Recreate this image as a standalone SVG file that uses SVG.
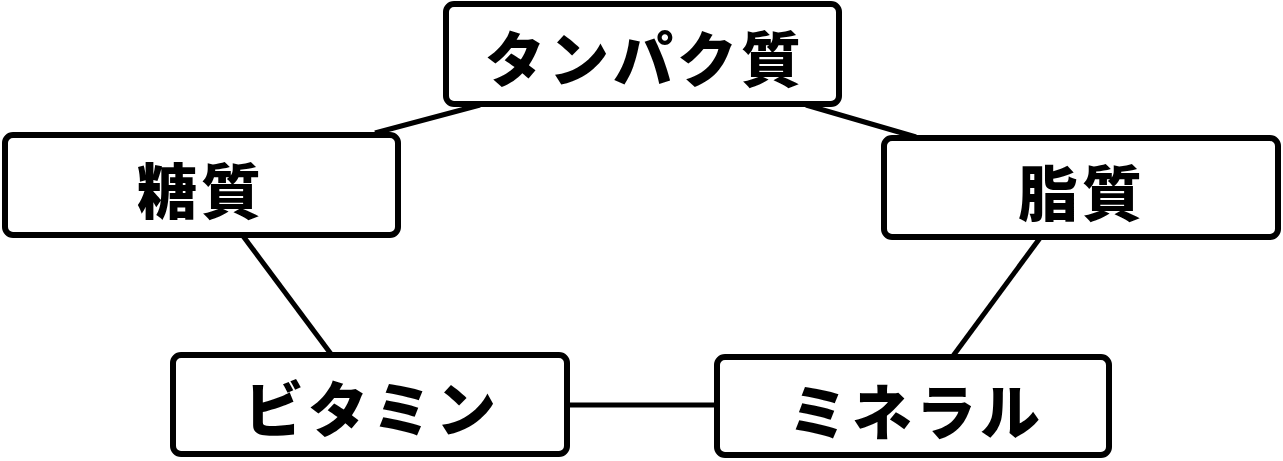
<svg xmlns="http://www.w3.org/2000/svg" width="1283" height="461" viewBox="0 0 1283 461">
<style>
.box{fill:#fff;stroke:#000;stroke-width:6}
.lbl{font-family:"Noto Sans CJK JP","Noto Sans",sans-serif;font-weight:900;font-size:60px;letter-spacing:4px;text-anchor:middle;dominant-baseline:central;fill:#000}
.edge{stroke:#000;stroke-width:5;fill:none}
</style>
<rect width="1283" height="461" fill="#fff"/>
<g id="connectors">
<line class="edge" x1="375" y1="133" x2="480" y2="105"/>
<line class="edge" x1="806" y1="105" x2="916" y2="137"/>
<line class="edge" x1="243" y1="236" x2="331" y2="354"/>
<line class="edge" x1="1040" y1="238" x2="953" y2="356"/>
<line class="edge" x1="568" y1="405" x2="716" y2="405"/>
</g>
<g id="protein">
<rect class="box" x="446" y="4" width="393" height="100" rx="8"/>
<text class="lbl" x="645" y="55">タンパク質</text>
</g>
<g id="carb">
<rect class="box" x="5" y="135" width="393" height="100" rx="8"/>
<text class="lbl" x="201" y="187">糖質</text>
</g>
<g id="fat">
<rect class="box" x="884" y="138" width="394" height="99" rx="8"/>
<text class="lbl" x="1082" y="189">脂質</text>
</g>
<g id="vitamin">
<rect class="box" x="173" y="355" width="394" height="99" rx="8"/>
<text class="lbl" x="372" y="405">ビタミン</text>
</g>
<g id="mineral">
<rect class="box" x="717" y="357" width="392" height="98" rx="8"/>
<text class="lbl" x="916" y="408">ミネラル</text>
</g>
</svg>
